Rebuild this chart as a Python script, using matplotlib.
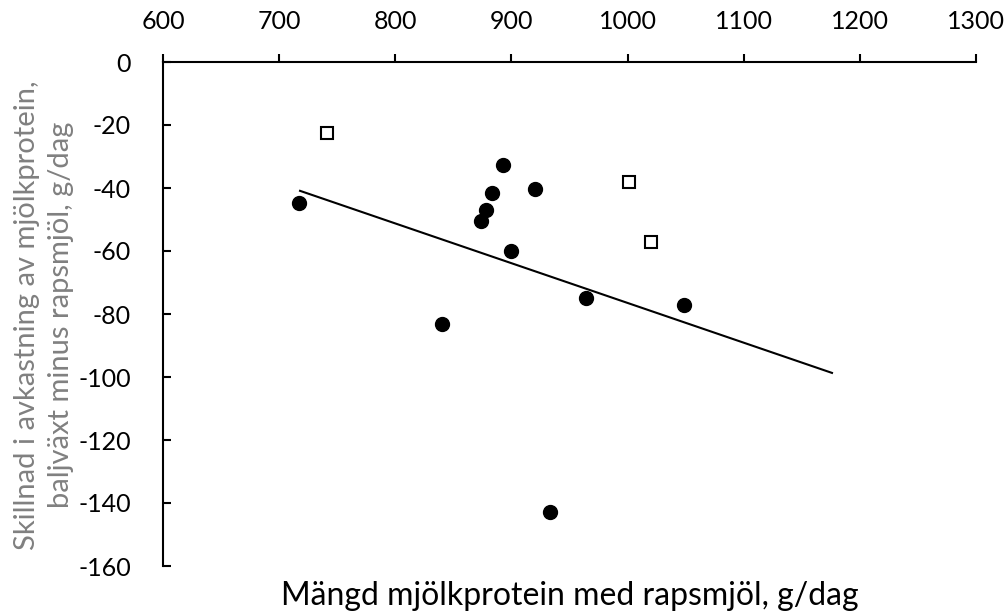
import matplotlib.pyplot as plt

## data
circle_x = [717, 840, 874, 878, 883, 893, 900, 920, 933, 964, 1049]
circle_y = [-44.8, -83.2, -50.5, -47.0, -41.6, -32.7, -60.0, -40.3, -142.9, -74.9, -77.1]
square_x = [741, 1001, 1020]
square_y = [-22.5, -38.1, -57.1]
fit_x = [718, 1176]
fit_y = [-40.9, -98.7]
xticks = [600, 700, 800, 900, 1000, 1100, 1200, 1300]
yticks = [0, -20, -40, -60, -80, -100, -120, -140, -160]

plt.rcParams['font.family'] = ['Lato', 'DejaVu Sans']
plt.rcParams['axes.unicode_minus'] = False

fig = plt.figure(figsize=(10.08, 6.15), dpi=100)
ax = fig.add_axes([163/1008, 1 - 566/615, (976 - 163)/1008, (566 - 62)/615])

ax.plot(fit_x, fit_y, color='black', lw=1.5, zorder=2)
ax.plot(circle_x, circle_y, 'o', color='black', ms=10, zorder=3)
ax.plot(square_x, square_y, 's', mfc='white', mec='black', mew=1.5, ms=9, zorder=3)

ax.set_xlim(600, 1300)
ax.set_ylim(-160, 0)
ax.set_xticks(xticks)
ax.set_yticks(yticks)

ax.xaxis.tick_top()
ax.spines['bottom'].set_visible(False)
ax.spines['right'].set_visible(False)
for s in ['top', 'left']:
	ax.spines[s].set_linewidth(1.5)
ax.tick_params(axis='x', direction='out', length=6, width=1.5, pad=15, labelsize=18)
ax.tick_params(axis='y', direction='in', length=6, width=1.5, pad=23, labelsize=18)

ax.set_xlabel('Mängd mjölkprotein med rapsmjöl, g/dag', fontsize=23)
ax.xaxis.set_label_position('bottom')
ax.xaxis.set_label_coords(0.5, -0.03)
ax.xaxis.label.set_va('top')

fig.text(44/1008, 1 - 315/615, 'Skillnad i avkastning av mjölkprotein,\nbaljväxt minus rapsmjöl, g/dag',
	rotation=90, ha='center', va='center', fontsize=21, color='#808080', linespacing=1.35)

fig.savefig('out.png', dpi=100)
